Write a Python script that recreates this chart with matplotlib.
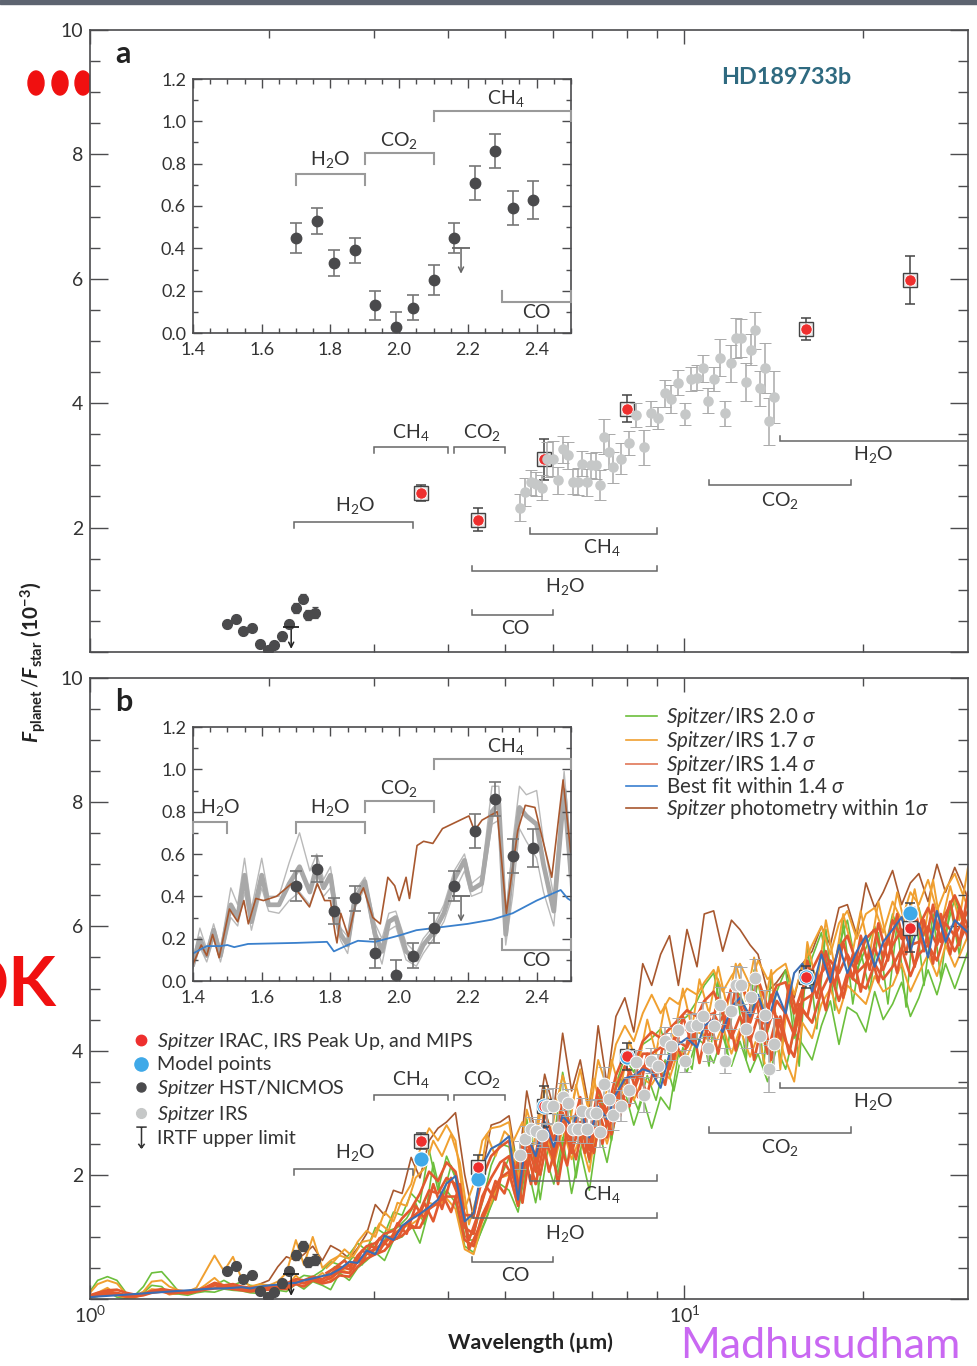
import matplotlib
matplotlib.use("Agg")
import matplotlib.pyplot as plt
from matplotlib.lines import Line2D
from matplotlib.patches import Ellipse, Rectangle
from matplotlib.path import Path
from matplotlib.ticker import FixedLocator, MultipleLocator, NullFormatter

W, H = 977, 1366

plt.rcParams['font.family'] = ['Lato', 'DejaVu Sans']
plt.rcParams['mathtext.fontset'] = 'custom'
plt.rcParams['mathtext.rm'] = 'Lato'
plt.rcParams['mathtext.it'] = 'Lato:italic'
plt.rcParams['mathtext.bf'] = 'Lato:bold'
plt.rcParams['mathtext.bfit'] = 'Lato:italic:bold'
plt.rcParams['mathtext.default'] = 'rm'

# DATA

# Spitzer photometry
phot_wave = [3.6, 4.5, 5.8, 8.0, 16.0, 24.0]
phot_flux = [2.55, 2.13, 3.10, 3.91, 5.19, 5.98]
phot_err = [0.13, 0.19, 0.33, 0.22, 0.18, 0.39]
model_flux = [2.26, 1.93, 3.10, 3.90, 5.18, 6.21]

# HST/NICMOS
nic_wave = [1.70, 1.76, 1.81, 1.87, 1.93, 1.99, 2.04, 2.10, 2.16, 2.22, 2.28, 2.33, 2.39]
nic_flux = [0.45, 0.53, 0.33, 0.39, 0.13, 0.03, 0.12, 0.25, 0.45, 0.71, 0.86, 0.59, 0.63]
nic_err = [0.07, 0.06, 0.06, 0.06, 0.07, 0.07, 0.06, 0.07, 0.07, 0.08, 0.08, 0.08, 0.09]

# IRS
irs_wave = [5.28, 5.40, 5.52, 5.62, 5.75, 5.88, 6.00, 6.13, 6.25, 6.37,
            6.49, 6.61, 6.73, 6.86, 6.97, 7.09, 7.22, 7.33, 7.46, 7.58,
            7.82, 8.06, 8.30, 8.56, 8.77, 9.03, 9.26, 9.51, 9.75, 10.02,
            10.25, 10.49, 10.74, 10.97, 11.22, 11.47, 11.71, 11.96, 12.22, 12.46,
            12.70, 12.92, 13.17, 13.40, 13.66, 13.90, 14.14]
irs_flux = [2.32, 2.57, 2.73, 2.70, 2.64, 3.10, 3.11, 2.76, 3.26, 3.16,
            2.74, 2.74, 3.03, 2.73, 3.00, 3.00, 2.69, 3.46, 3.22, 2.97,
            3.11, 3.36, 3.81, 3.29, 3.84, 3.76, 4.16, 4.07, 4.33, 3.83,
            4.39, 4.41, 4.56, 4.04, 4.39, 4.73, 3.84, 4.64, 5.05, 5.05,
            4.34, 4.86, 5.17, 4.24, 4.57, 3.71, 4.10]
irs_err = [0.22, 0.22, 0.20, 0.20, 0.20, 0.28, 0.28, 0.22, 0.22, 0.22,
           0.20, 0.22, 0.20, 0.22, 0.20, 0.22, 0.24, 0.28, 0.28, 0.25,
           0.25, 0.20, 0.20, 0.28, 0.20, 0.18, 0.22, 0.22, 0.20, 0.18,
           0.20, 0.20, 0.22, 0.20, 0.20, 0.30, 0.20, 0.30, 0.32, 0.30,
           0.30, 0.25, 0.30, 0.28, 0.40, 0.38, 0.42]

# IRTF upper limit
irtf_wave = 2.18
irtf_flux = 0.4

# spectra of panel b
wave = [1.00, 1.03, 1.07, 1.11, 1.15, 1.19, 1.23, 1.27, 1.32, 1.36,
        1.41, 1.46, 1.51, 1.56, 1.62, 1.68, 1.74, 1.80, 1.86, 1.93,
        2.00, 2.07, 2.14, 2.22, 2.29, 2.37, 2.46, 2.54, 2.63, 2.73,
        2.82, 2.92, 3.02, 3.13, 3.24, 3.35, 3.47, 3.59, 3.72, 3.85,
        3.98, 4.12, 4.27, 4.42, 4.57, 4.73, 4.90, 5.07, 5.25, 5.43,
        5.62, 5.82, 6.03, 6.24, 6.46, 6.68, 6.92, 7.16, 7.41, 7.67,
        7.94, 8.22, 8.51, 8.81, 9.12, 9.44, 9.77, 10.1, 10.5, 10.8,
        11.2, 11.6, 12.0, 12.4, 12.9, 13.3, 13.8, 14.3, 14.8, 15.3,
        15.8, 16.4, 17.0, 17.6, 18.2, 18.8, 19.5, 20.2, 20.9, 21.6,
        22.4, 23.2, 24.0, 24.8, 25.7, 26.6, 27.5, 28.5, 30.0]
green_hi = [.12, .30, .36, .30, .10, .06, .20, .42, .44, .30,
            .12, .10, .14, .16, .22, .30, .22, .28, .22, .20,
            .18, .20, .25, .30, .38, .36, .46, .60, .55, .72,
            .90, .78, 1.15, 1.05, 1.40, 1.35, 1.70, 1.55, 2.40, 1.75,
            2.30, 1.95, 1.00, 1.05, 1.55, 2.15, 2.50, 2.45, 1.60, 2.90,
            2.10, 3.05, 2.55, 3.65, 2.90, 3.00, 2.20, 3.35, 2.85, 3.45,
            3.90, 3.65, 4.10, 4.20, 4.35, 3.90, 4.45, 4.55, 4.80, 5.05,
            5.25, 4.55, 5.00, 4.90, 4.50, 5.10, 4.30, 4.95, 5.30, 4.20,
            4.85, 5.50, 5.90, 5.10, 5.70, 6.10, 5.30, 5.65, 6.00, 5.50,
            6.20, 5.80, 5.95, 6.30, 5.70, 6.20, 5.90, 6.45, 5.80]
green_lo = [.02, .04, .12, .03, .01, .04, .10, .22, .20, .08,
            .08, .06, .10, .12, .11, .16, .14, .13, .10, .09,
            .10, .14, .12, .24, .16, .28, .22, .15, .42, .30,
            .50, .62, .75, .62, .95, 1.00, 1.20, .90, 1.45, 1.55,
            1.75, 1.55, .85, .75, 1.15, 1.50, 1.85, 1.75, 1.40, 2.20,
            1.55, 2.35, 1.85, 2.60, 1.70, 2.40, 1.75, 2.75, 2.20, 2.95,
            3.35, 2.80, 3.25, 2.75, 3.25, 3.05, 3.95, 3.65, 4.20, 4.10,
            3.80, 4.25, 3.75, 4.15, 3.65, 3.95, 3.50, 4.05, 3.70, 4.30,
            4.10, 3.85, 4.40, 4.80, 4.10, 4.70, 4.60, 4.30, 4.95, 4.50,
            4.75, 5.10, 4.55, 4.85, 5.30, 4.90, 5.40, 5.00, 5.60]
orange_hi = [.10, .24, .30, .25, .08, .05, .12, .28, .30, .20,
             .14, .12, .18, .42, .70, .45, .68, .32, .20, .24,
             .22, .28, .42, .95, .55, 1.00, .50, .62, .70, .65,
             .92, 1.10, 1.00, 1.40, 1.25, 1.60, 1.85, 2.40, 2.75, 2.55,
             2.80, 2.55, 1.45, 1.85, 2.55, 2.75, 2.78, 2.85, 1.90, 3.05,
             2.55, 3.40, 2.95, 3.60, 3.10, 3.70, 2.95, 3.85, 3.40, 4.10,
             4.40, 4.15, 4.60, 4.90, 4.60, 4.85, 4.75, 5.00, 4.90, 5.10,
             5.30, 4.95, 5.20, 5.40, 5.05, 5.45, 5.15, 5.30, 5.40, 4.90,
             5.35, 5.70, 6.00, 5.55, 6.05, 6.25, 5.80, 6.20, 6.30, 5.90,
             6.40, 6.10, 6.55, 6.35, 6.75, 6.25, 6.60, 6.85, 6.30]
orange_lo = [.03, .10, .18, .06, .02, .02, .08, .16, .14, .07,
             .10, .09, .13, .22, .34, .20, .22, .16, .14, .15,
             .16, .18, .20, .38, .25, .30, .42, .30, .48, .42,
             .62, .72, .80, .88, 1.05, 1.15, 1.20, 1.30, 1.55, 1.50,
             1.62, 1.45, .80, .72, 1.25, 1.55, 1.95, 2.00, 1.50, 2.35,
             1.85, 2.55, 2.15, 2.75, 2.25, 2.60, 2.05, 3.00, 2.50, 3.05,
             3.45, 3.20, 3.55, 3.45, 3.70, 3.55, 4.00, 3.90, 4.30, 4.25,
             4.05, 4.40, 3.95, 4.35, 3.90, 4.25, 3.60, 4.35, 3.85, 3.50,
             4.45, 4.20, 4.75, 5.00, 4.60, 5.05, 4.90, 4.75, 5.20, 4.95,
             5.05, 5.40, 4.95, 5.25, 5.55, 5.20, 5.70, 5.35, 5.85]
red_hi = [.06, .10, .14, .15, .10, .07, .08, .13, .16, .14,
          .13, .12, .14, .18, .26, .22, .24, .20, .18, .19,
          .20, .22, .25, .32, .30, .36, .32, .40, .52, .48,
          .70, .85, .90, 1.05, 1.10, 1.30, 1.45, 1.70, 2.05, 1.90,
          2.20, 2.05, 1.35, 1.35, 1.95, 2.30, 2.45, 2.55, 1.70, 2.70,
          2.25, 3.00, 2.55, 3.20, 2.70, 3.25, 2.60, 3.40, 3.00, 3.60,
          3.95, 3.75, 4.15, 4.30, 4.20, 4.35, 4.50, 4.65, 4.55, 4.80,
          4.95, 4.60, 5.00, 5.10, 4.75, 5.15, 4.70, 5.05, 5.10, 4.60,
          5.00, 5.30, 5.60, 5.20, 5.65, 5.85, 5.40, 5.80, 5.95, 5.50,
          6.10, 5.80, 6.25, 6.00, 6.30, 5.95, 6.20, 6.50, 6.00]
red_mid = [.04, .08, .11, .10, .06, .05, .07, .11, .14, .11,
           .11, .10, .13, .16, .22, .20, .20, .17, .15, .17,
           .17, .20, .20, .28, .25, .33, .28, .34, .44, .42,
           .60, .75, .80, .92, 1.02, 1.15, 1.30, 1.42, 1.75, 1.70,
           1.95, 1.85, 1.15, 1.05, 1.65, 1.95, 2.20, 2.30, 1.60, 2.55,
           2.05, 2.75, 2.40, 3.00, 2.50, 3.05, 2.40, 3.25, 2.80, 3.40,
           3.75, 3.55, 3.95, 3.95, 4.05, 4.00, 4.30, 4.35, 4.50, 4.55,
           4.60, 4.30, 4.65, 4.85, 4.45, 4.85, 4.35, 4.80, 4.60, 4.25,
           4.80, 4.90, 5.25, 5.45, 5.25, 5.55, 5.25, 5.40, 5.65, 5.30,
           5.70, 5.95, 5.70, 5.75, 6.00, 5.70, 6.05, 5.85, 6.25]
red_lo = [.03, .06, .08, .07, .04, .04, .06, .10, .12, .09,
          .10, .09, .12, .15, .17, .18, .16, .14, .12, .14,
          .15, .17, .16, .24, .20, .30, .25, .28, .38, .36,
          .52, .65, .72, .78, .95, 1.02, 1.15, 1.15, 1.45, 1.55,
          1.65, 1.65, .95, .85, 1.35, 1.65, 1.95, 2.05, 1.50, 2.40,
          1.85, 2.55, 2.25, 2.85, 2.35, 2.85, 2.25, 3.05, 2.60, 3.20,
          3.55, 3.35, 3.75, 3.65, 3.85, 3.70, 4.15, 4.05, 4.40, 4.35,
          4.30, 4.55, 4.20, 4.55, 4.15, 4.55, 3.95, 4.55, 4.15, 3.90,
          4.65, 4.45, 4.95, 5.25, 4.80, 5.25, 5.10, 5.00, 5.40, 5.15,
          5.35, 5.65, 5.20, 5.55, 5.70, 5.45, 5.90, 5.60, 6.05]
best_fit = [.03, .04, .05, .06, .07, .08, .09, .10, .11, .12,
            .13, .14, .15, .16, .17, .17, .18, .19, .17, .20,
            .22, .23, .25, .26, .30, .33, .37, .40, .48, .60,
            .58, .78, .72, 1.02, .95, 1.18, 1.28, 1.37, 1.48, 1.60,
            1.86, 1.98, 1.25, 1.38, 2.15, 2.42, 2.50, 2.62, 1.60, 2.66,
            2.30, 2.85, 2.45, 2.95, 2.78, 3.05, 2.60, 3.10, 2.90, 3.30,
            3.55, 3.60, 3.70, 3.65, 3.40, 3.95, 4.10, 4.20, 4.05, 4.40,
            4.50, 4.30, 4.70, 4.85, 4.55, 4.90, 4.45, 4.95, 4.60, 5.25,
            5.40, 4.95, 5.55, 5.10, 5.70, 5.25, 5.60, 5.85, 5.35, 5.75,
            5.95, 6.15, 5.60, 6.05, 5.50, 6.25, 5.75, 6.10, 5.90]
# the photometry model only shows from 1.93 micron on
brown_first = 19
brown = [.24,
         .30, .52, .68, .62, .72, .85, .62, .86, .78, .65,
         .82, 1.05, 1.52, 1.35, 1.75, 1.70, 2.28, 1.95, 2.55, 2.75,
         2.85, 3.00, 2.00, 1.30, 2.05, 2.80, 2.85, 2.95, 2.05, 3.35,
         2.65, 3.62, 3.05, 4.28, 3.35, 3.85, 3.05, 4.40, 3.45, 4.55,
         4.85, 4.30, 5.40, 5.05, 5.55, 5.85, 5.05, 5.95, 5.35, 6.20,
         6.25, 5.60, 6.10, 5.95, 5.70, 5.55, 4.95, 5.10, 5.30, 4.85,
         5.40, 5.60, 6.00, 5.70, 6.30, 6.35, 5.85, 6.70, 6.30, 6.55,
         6.90, 6.35, 6.70, 6.85, 6.40, 7.00, 6.55, 6.95, 6.45]

# more models of the dense part, on an offset wavelength grid
wave2 = [2.50, 2.58, 2.68, 2.77, 2.87, 2.97, 3.07, 3.18, 3.29, 3.41,
         3.53, 3.65, 3.78, 3.91, 4.05, 4.19, 4.34, 4.49, 4.65, 4.81,
         4.98, 5.16, 5.34, 5.52, 5.72, 5.92, 6.13, 6.35, 6.57, 6.80,
         7.04, 7.28, 7.54, 7.80, 8.08, 8.36, 8.66, 8.96, 9.28, 9.60,
         9.94, 10.3, 10.6, 11.0, 11.4, 11.8, 12.2, 12.7, 13.1, 13.6,
         14.0, 14.5, 15.0, 15.6, 16.1, 16.7, 17.3, 17.9, 18.5, 19.2,
         19.8, 20.5, 21.2, 22.0, 22.8, 23.6, 24.4, 25.3, 26.2, 27.0,
         28.0, 29.0, 30.0]
red_a = [.42, .50, .62, .48, .78, .70, .98, .85, 1.22, 1.05,
         1.50, 1.30, 1.85, 1.45, 1.95, 1.60, .95, 1.35, 1.80, 1.60,
         2.20, 1.95, 2.45, 1.85, 2.75, 2.05, 2.60, 2.15, 2.95, 2.35,
         2.85, 2.50, 3.20, 2.95, 3.70, 3.25, 3.95, 3.55, 4.25, 3.85,
         4.55, 4.10, 4.60, 4.20, 4.85, 4.35, 5.00, 4.40, 4.95, 4.25,
         4.90, 4.15, 5.05, 4.50, 5.45, 4.85, 5.60, 5.05, 5.75, 5.15,
         5.85, 5.30, 6.05, 5.45, 6.20, 5.55, 6.30, 5.60, 6.35, 5.75,
         6.40, 5.70, 6.55]
red_b = [.35, .42, .50, .58, .62, .85, .78, 1.00, .98, 1.22,
         1.15, 1.55, 1.25, 1.70, 1.40, 1.85, .80, 1.10, 1.45, 1.90,
         1.70, 2.20, 1.55, 2.50, 2.00, 2.70, 1.85, 2.75, 2.25, 2.95,
         2.35, 3.10, 2.65, 3.30, 3.10, 3.65, 3.30, 3.85, 3.45, 4.20,
         3.85, 4.45, 3.80, 4.55, 3.95, 4.70, 4.00, 4.65, 3.85, 4.55,
         3.85, 4.55, 3.95, 4.75, 4.55, 5.25, 4.65, 5.40, 4.85, 5.55,
         4.95, 5.65, 5.10, 5.85, 5.25, 6.00, 5.35, 6.10, 5.40, 6.20,
         5.55, 6.30, 5.80]
orange_c = [.50, .62, .80, .68, .92, .95, 1.22, 1.10, 1.55, 1.50,
            1.95, 2.10, 2.55, 2.30, 2.65, 2.20, 1.20, 1.70, 2.65, 2.30,
            2.70, 2.55, 2.85, 2.25, 3.10, 2.45, 3.30, 2.55, 3.45, 2.85,
            3.55, 2.95, 3.85, 3.35, 4.15, 3.75, 4.50, 3.95, 4.75, 4.20,
            5.00, 4.35, 5.15, 4.60, 5.35, 4.70, 5.40, 4.80, 5.50, 4.65,
            5.30, 3.70, 5.10, 4.40, 5.75, 5.05, 6.10, 5.35, 6.20, 5.60,
            6.25, 5.55, 6.40, 5.70, 6.55, 5.95, 6.60, 5.85, 6.75, 6.00,
            6.65, 6.10, 6.95]
green_c = [.38, .52, .50, .68, .55, .90, .75, 1.10, 1.15, 1.30,
           1.55, 1.20, 2.20, 1.60, 2.15, 1.80, .95, .95, 1.30, 1.75,
           2.10, 2.45, 1.55, 2.70, 1.60, 2.55, 2.00, 3.05, 1.95, 2.80,
           2.40, 3.15, 2.55, 3.55, 3.40, 3.05, 3.60, 3.20, 3.85, 3.35,
           4.05, 3.70, 4.55, 3.75, 5.15, 3.95, 5.10, 3.85, 5.30, 3.75,
           5.25, 3.80, 5.20, 3.75, 5.70, 4.35, 5.95, 4.65, 6.10, 4.75,
           5.60, 4.95, 5.90, 4.75, 6.05, 4.70, 6.30, 5.05, 6.20, 5.15,
           6.35, 5.55, 6.55]

# spectra of inset b
gray_wave = [1.40, 1.42, 1.44, 1.46, 1.48, 1.51, 1.53, 1.55, 1.57, 1.60,
             1.62, 1.65, 1.68, 1.71, 1.74, 1.76, 1.78, 1.80, 1.82, 1.83,
             1.85, 1.87, 1.90, 1.93, 1.95, 1.97, 1.99, 2.02, 2.05, 2.07,
             2.10, 2.13, 2.16, 2.19, 2.21, 2.24, 2.27, 2.29, 2.31, 2.33,
             2.35, 2.37, 2.40, 2.42, 2.45, 2.48, 2.50]
gray_mid = [.08, .20, .12, .24, .12, .36, .30, .50, .28, .50,
            .36, .36, .46, .54, .42, .54, .44, .50, .28, .22,
            .17, .38, .47, .22, .14, .28, .30, .14, .10, .17,
            .23, .32, .48, .57, .43, .46, .80, .84, .22, .55,
            .82, .78, .74, .55, .33, .90, .50]
gray_hi = [.10, .25, .15, .27, .15, .44, .36, .58, .34, .58,
           .40, .40, .56, .70, .52, .60, .48, .54, .32, .25,
           .21, .42, .49, .27, .20, .32, .33, .18, .13, .20,
           .26, .36, .52, .60, .46, .50, .92, .92, .27, .65,
           .92, .88, .90, .66, .40, .99, .60]
gray_lo = [.06, .16, .09, .20, .09, .30, .26, .42, .24, .44,
           .33, .32, .38, .42, .36, .46, .40, .44, .24, .19,
           .13, .34, .44, .18, .08, .24, .26, .10, .07, .13,
           .20, .28, .42, .52, .40, .42, .74, .76, .17, .40,
           .72, .66, .58, .42, .26, .86, .42]
inset_brown_wave = [1.40, 1.424, 1.44, 1.457, 1.476, 1.506, 1.53, 1.548, 1.561, 1.583,
                    1.605, 1.643, 1.687, 1.739, 1.762, 1.783, 1.80, 1.813, 1.819, 1.83,
                    1.852, 1.874, 1.896, 1.923, 1.945, 1.967, 1.987, 2.00, 2.02, 2.03,
                    2.052, 2.071, 2.098, 2.126, 2.203, 2.219, 2.241, 2.285, 2.312, 2.345,
                    2.367, 2.395, 2.444, 2.477, 2.499]
inset_brown = [.08, .17, .12, .22, .11, .34, .28, .38, .27, .39,
               .38, .40, .46, .35, .46, .38, .38, .23, .18, .32,
               .21, .37, .44, .30, .27, .49, .45, .38, .49, .39,
               .64, .66, .65, .72, .78, .71, .76, .80, .32, .71,
               .83, .82, .49, .95, .61]
inset_blue_wave = [1.40, 1.44, 1.48, 1.50, 1.52, 1.56, 1.70, 1.79, 1.81, 1.83, 1.85, 1.88,
                   1.93, 2.00, 2.05, 2.10, 2.20, 2.27, 2.33, 2.40, 2.47, 2.49, 2.50]
inset_blue = [.13, .165, .165, .17, .16, .175, .18, .185, .14, .155, .17, .19,
              .185, .215, .24, .25, .27, .29, .32, .38, .43, .39, .38]

# molecule brackets: name, start, end, level, tick direction, label x, label y
main_bands = [('H$_2$O', 2.2, 3.5, 2.09, -1, 2.79, 2.36),
              ('CH$_4$', 3.0, 4.0, 3.29, -1, 3.47, 3.53),
              ('CO$_2$', 4.1, 5.0, 3.29, -1, 4.57, 3.53),
              ('CH$_4$', 5.5, 9.0, 1.90, 1, 7.26, 1.68),
              ('H$_2$O', 4.4, 9.0, 1.30, 1, 6.3, 1.06),
              ('CO', 4.4, 6.0, 0.59, 1, 5.2, 0.38),
              ('CO$_2$', 11.0, 19.1, 2.68, 1, 14.5, 2.44),
              ('H$_2$O', 14.5, 30.0, 3.39, 1, 20.8, 3.18)]
inset_bands = [('H$_2$O', 1.7, 1.9, 0.75, -1, 1.80, 0.82),
               ('CO$_2$', 1.9, 2.1, 0.85, -1, 2.00, 0.91),
               ('CH$_4$', 2.1, 2.5, 1.05, -1, 2.31, 1.11),
               ('CO', 2.3, 2.5, 0.148, 1, 2.40, 0.095)]
inset_band_b = ('H$_2$O', 1.4, 1.5, 0.75, -1, 1.48, 0.82)

y_ticks = [0, 2, 4, 6, 8, 10]
y_labels = ['', '2', '4', '6', '8', '10']

# COLORS
dark = '#4a4a4c'
frame = '#4c4c4e'
c_red = '#ee2f2e'
c_blue_pt = '#3fa9e8'
c_gray_pt = '#c6c8c8'
c_green = '#6cbf3c'
c_orange = '#f0a030'
c_line_red = '#e2592f'
c_best = '#3a6db5'
c_brown = '#a8582f'


def px_rect(left, top, right, bottom):
    return [left / W, 1 - bottom / H, (right - left) / W, (bottom - top) / H]


def draw_band(ax, band, tick, color, lw, size):
    name, x0, x1, level, sign, lx, ly = band
    ax.plot([x0, x0, x1, x1], [level + sign * tick, level, level, level + sign * tick],
            color=color, lw=lw, zorder=3, solid_joinstyle='miter', clip_on=False)
    ax.text(lx, ly, name, ha='center', va='center', fontsize=size, color='#333333', zorder=3)


def draw_points(ax, ms_nic, cap_nic, lw_nic, inset=False):
    ax.errorbar(nic_wave, nic_flux, yerr=nic_err, fmt='o', ms=ms_nic, color=dark, ecolor='#777777' if inset else dark,
                elinewidth=lw_nic, capsize=cap_nic, capthick=lw_nic, zorder=6)
    if inset:
        y_tip = irtf_flux - 0.12
    else:
        y_tip = irtf_flux - 0.35
    ax.annotate('', xy=(irtf_wave, y_tip), xytext=(irtf_wave, irtf_flux), zorder=6,
                arrowprops=dict(arrowstyle='->', color='#666666' if inset else '#222222', lw=1.1,
                                shrinkA=0, shrinkB=0, mutation_scale=9))
    ax.errorbar([irtf_wave], [irtf_flux], fmt='_', ms=11 if not inset else 13, mew=1.3,
                color='#666666' if inset else '#222222', zorder=6)


def style_main(ax, show_x):
    ax.set_xscale('log')
    ax.set_xlim(1, 30)
    ax.set_ylim(0, 10)
    ax.xaxis.set_major_locator(FixedLocator([1, 10]))
    ax.xaxis.set_minor_locator(FixedLocator([2, 3, 4, 5, 6, 7, 8, 9, 20]))
    ax.xaxis.set_minor_formatter(NullFormatter())
    ax.set_xticklabels([r'$10^{0}$', r'$10^{1}$'] if show_x else ['', ''], fontsize=14, color='#333333')
    ax.set_yticks(y_ticks)
    ax.set_yticklabels(y_labels, fontsize=14, color='#333333')
    ax.yaxis.set_minor_locator(MultipleLocator(0.5))
    ax.tick_params(axis='x', which='major', direction='in', length=10, width=1, top=True, color=frame, pad=4)
    ax.tick_params(axis='x', which='minor', direction='in', length=6, width=1, top=True, color=frame)
    ax.tick_params(axis='y', which='major', direction='in', length=13, width=1, right=True, color=frame, pad=5)
    ax.tick_params(axis='y', which='minor', direction='in', length=7, width=1, right=True, color=frame)
    for s in ax.spines.values():
        s.set_color(frame)
        s.set_linewidth(1.2)


def style_inset(ax):
    ax.set_xlim(1.4, 2.5)
    ax.set_ylim(0, 1.2)
    ax.set_xticks([1.4, 1.6, 1.8, 2.0, 2.2, 2.4])
    ax.set_yticks([0, 0.2, 0.4, 0.6, 0.8, 1.0, 1.2])
    ax.set_yticklabels(['0.0', '0.2', '0.4', '0.6', '0.8', '1.0', '1.2'])
    ax.xaxis.set_minor_locator(MultipleLocator(0.05))
    ax.yaxis.set_minor_locator(MultipleLocator(0.1))
    ax.tick_params(which='major', direction='in', length=6.5, width=1, top=True, right=True,
                   color=frame, labelsize=13, labelcolor='#333333', pad=5)
    ax.tick_params(axis='x', which='major', pad=6.5)
    ax.tick_params(which='minor', direction='in', length=3.5, width=1, top=True, right=True, color=frame)
    for s in ax.spines.values():
        s.set_color(frame)
        s.set_linewidth(1.2)


def draw_photometry(ax, with_model):
    edge = 'white' if with_model else 'none'
    ax.plot(phot_wave, phot_flux, 's', ms=10.5, mfc='#e8e8e8', mec='#444444', mew=1, zorder=7, ls='none')
    ax.errorbar(phot_wave, phot_flux, yerr=phot_err, fmt='none', ecolor='#444444', elinewidth=1.1,
                capsize=3.5, capthick=1.1, zorder=7)
    if with_model:
        ax.plot(phot_wave, model_flux, 'o', ms=11, mfc=c_blue_pt, mec='white', mew=0.8, zorder=8, ls='none')
    ax.plot(phot_wave, phot_flux, 'o', ms=8.2, mfc=c_red, mec='white', mew=0.6, zorder=8, ls='none')
    ax.errorbar(irs_wave, irs_flux, yerr=irs_err, fmt='o', ms=9.2 if with_model else 7.6, mfc=c_gray_pt,
                mec=edge, mew=0.7, ecolor='#a9a9a9', elinewidth=1.1, capsize=4, capthick=1.1, zorder=9)


fig = plt.figure(figsize=(W / 100, H / 100), dpi=100)

# decorations on the slide
fig.add_artist(Rectangle((0, 1 - 4 / H), 1, 4 / H, transform=fig.transFigure, color='#5d6470'))
for cx in [36, 60, 83]:
    fig.add_artist(Ellipse((cx / W, 1 - 83 / H), 16 / W, 24 / H, transform=fig.transFigure, color='#f01010', zorder=0))
fig.text(56 / W, 1 - 987 / H, 'OK', color='#f01010', fontsize=50, fontweight='bold', ha='right', va='center')
fig.text(820 / W, 1 - 1346 / H, 'Madhusudham', color='#c968f2', fontsize=31, ha='center', va='center')

# PANEL A
ax_a = fig.add_axes(px_rect(90, 30, 968, 652))
style_main(ax_a, False)
for band in main_bands:
    draw_band(ax_a, band, 0.09, '#666666', 1.1, 14)
draw_points(ax_a, 7, 2.5, 0.9)
draw_photometry(ax_a, False)
fig.text(123 / W, 1 - 54 / H, 'a', fontsize=22, fontweight='bold', color='#222222', ha='center', va='center')
fig.text(786 / W, 1 - 77 / H, 'HD189733b', fontsize=16.8, fontweight='bold', color='#2f6a80', ha='center', va='center')

ins_a = fig.add_axes(px_rect(193, 79, 571, 333))
style_inset(ins_a)
for band in inset_bands:
    draw_band(ins_a, band, 0.05, '#9a9a9a', 1.5, 14)
draw_points(ins_a, 7.5, 4, 1.2, inset=True)

# PANEL B
ax_b = fig.add_axes(px_rect(90, 678, 968, 1299))
style_main(ax_b, True)
ax_b.plot(wave[brown_first:], brown, color=c_brown, lw=1.2, zorder=1)
for series in [green_hi, green_lo]:
    ax_b.plot(wave, series, color=c_green, lw=1.2, zorder=1.2)
ax_b.plot(wave2, green_c, color=c_green, lw=1.2, zorder=1.2)
for series in [orange_hi, orange_lo]:
    ax_b.plot(wave, series, color=c_orange, lw=1.4, zorder=1.4)
ax_b.plot(wave2, orange_c, color=c_orange, lw=1.4, zorder=1.4)
for series in [red_hi, red_mid, red_lo]:
    ax_b.plot(wave, series, color=c_line_red, lw=1.9, zorder=1.6)
for series in [red_a, red_b]:
    ax_b.plot(wave2, series, color=c_line_red, lw=1.9, zorder=1.6)
ax_b.plot(wave, best_fit, color=c_best, lw=1.5, zorder=2)
for band in main_bands:
    draw_band(ax_b, band, 0.09, '#666666', 1.1, 14)
draw_points(ax_b, 7, 2.5, 0.9)
draw_photometry(ax_b, True)
fig.text(124 / W, 1 - 702 / H, 'b', fontsize=22, fontweight='bold', color='#222222', ha='center', va='center')

ins_b = fig.add_axes(px_rect(193, 727, 571, 981), zorder=10)
style_inset(ins_b)
ins_b.plot(gray_wave, gray_hi, color='#b9b9b9', lw=1.0, zorder=1)
ins_b.plot(gray_wave, gray_lo, color='#b9b9b9', lw=1.0, zorder=1)
ins_b.plot(gray_wave, gray_mid, color='#a8a8a8', lw=3.4, zorder=1.2)
ins_b.plot(inset_brown_wave, inset_brown, color=c_brown, lw=1.2, zorder=2)
ins_b.plot(inset_blue_wave, inset_blue, color='#3a80cc', lw=1.3, zorder=2)
for band in inset_bands:
    draw_band(ins_b, band, 0.05, '#9a9a9a', 1.5, 14)
draw_band(ins_b, inset_band_b, 0.05, '#9a9a9a', 1.5, 14)
draw_points(ins_b, 7.5, 4, 1.2, inset=True)

# legends
line_handles = [Line2D([], [], color=c_green, lw=1.2),
                Line2D([], [], color=c_orange, lw=1.2),
                Line2D([], [], color='#e58a70', lw=1.4),
                Line2D([], [], color='#3a7fd0', lw=1.2),
                Line2D([], [], color=c_brown, lw=1.2)]
line_labels = [r'$\mathit{Spitzer}$/IRS 2.0 $\mathit{\sigma}$',
               r'$\mathit{Spitzer}$/IRS 1.7 $\mathit{\sigma}$',
               r'$\mathit{Spitzer}$/IRS 1.4 $\mathit{\sigma}$',
               r'Best fit within 1.4 $\mathit{\sigma}$',
               r'$\mathit{Spitzer}$ photometry within 1$\mathit{\sigma}$']
leg1 = ax_b.legend(line_handles, line_labels, loc='upper left', bbox_to_anchor=(0.611, 0.957), frameon=False,
                   fontsize=14.8, handlelength=1.5, handletextpad=0.42, labelspacing=0.0,
                   borderpad=0, borderaxespad=0, labelcolor='#333333')
leg1.set_zorder(20)
ax_b.add_artist(leg1)

limit_marker = Path([(-0.5, 1), (0.5, 1), (0, 1), (0, -1), (-0.3, -0.6), (0, -1), (0.3, -0.6)],
                    [Path.MOVETO, Path.LINETO, Path.MOVETO, Path.LINETO, Path.MOVETO, Path.LINETO, Path.LINETO])
point_handles = [Line2D([], [], ls='none', marker='o', ms=7.5, color=c_red),
                 Line2D([], [], ls='none', marker='o', ms=9.5, color=c_blue_pt),
                 Line2D([], [], ls='none', marker='o', ms=6.5, color=dark),
                 Line2D([], [], ls='none', marker='o', ms=7, color=c_gray_pt),
                 Line2D([], [], ls='none', marker=limit_marker, ms=15, mfc='none', mec='#333333', mew=1.1)]
point_labels = [r'$\mathit{Spitzer}$ IRAC, IRS Peak Up, and MIPS',
                'Model points',
                r'$\mathit{Spitzer}$ HST/NICMOS',
                r'$\mathit{Spitzer}$ IRS',
                'IRTF upper limit']
leg2 = ax_b.legend(point_handles, point_labels, loc='upper left', bbox_to_anchor=(0.046, 0.432), frameon=False,
                   fontsize=14.2, handlelength=1.05, handletextpad=0.3, labelspacing=0.24,
                   borderpad=0, borderaxespad=0, labelcolor='#333333')
leg2.set_zorder(20)

# axis titles
fig.text(33 / W, 1 - 662 / H, r'$\mathbfit{F}_{\mathbf{planet}}\,/\mathbfit{F}_{\mathbf{star}}$ (10$^{\mathbf{-3}}$)',
         rotation=90, fontsize=15, fontweight='bold', color='#222222', ha='center', va='center')
fig.text(530 / W, 1 - 1343 / H, 'Wavelength (µm)', fontsize=15.4, fontweight='bold', color='#222222',
         ha='center', va='center')

fig.savefig('out.png', dpi=100)
